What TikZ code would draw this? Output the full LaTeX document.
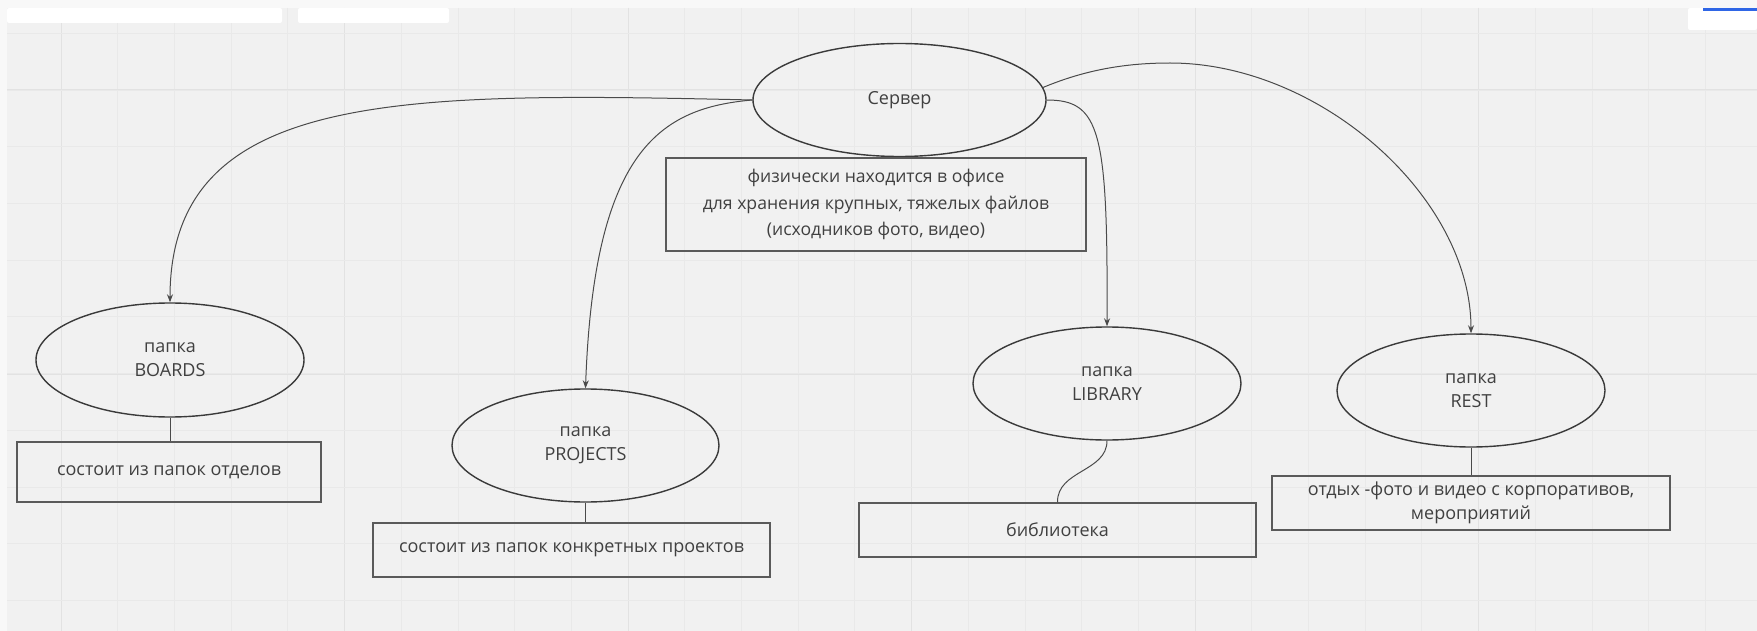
\documentclass[tikz,border=0pt]{standalone}
\usepackage{fontspec}
\setmainfont{Open Sans}
\usetikzlibrary{shapes.geometric,arrows.meta}
\definecolor{bgc}{HTML}{F1F1F1}
\definecolor{stripc}{HTML}{F8F8F8}
\definecolor{gmin}{HTML}{E9E9E9}
\definecolor{gmaj}{HTML}{E2E2E2}
\definecolor{lnc}{HTML}{3A3A3A}
\definecolor{cnc}{HTML}{4A4A4A}
\definecolor{bxc}{HTML}{5A5A5A}
\definecolor{txc}{HTML}{404040}
\definecolor{bluec}{HTML}{2F66E6}
\begin{document}
\begin{tikzpicture}[x=1pt,y=-1pt,
  lbl/.style={font=\fontsize{18}{24}\selectfont, text=txc, align=center},
  ell/.style={lbl, ellipse, draw=lnc, line width=1.4pt, inner sep=0pt},
  bx/.style={lbl, rectangle, draw=bxc, line width=1.3pt, inner sep=0pt},
  conn/.style={draw=cnc, line width=1pt},
  arr/.style={conn, -{Stealth[length=8pt,width=6pt]}},
  gridminor/.style={draw=gmin, line width=0.8pt},
  gridmajor/.style={draw=gmaj, line width=1pt}]
\useasboundingbox (0,0) rectangle (1757,631);
% background and grid
\fill[bgc] (0,0) rectangle (1757,631);
\fill[stripc] (0,0) rectangle (1757,8);
\fill[stripc] (0,0) rectangle (7,631);
\foreach \k in {0,...,29} \draw[gridminor] ({61+\k*56.7},8) -- ({61+\k*56.7},631);
\foreach \k in {0,...,5} \draw[gridmajor] ({61+\k*283.5},8) -- ({61+\k*283.5},631);
\foreach \k in {0,...,10} \draw[gridminor] (7,{33.3+\k*56.7}) -- (1757,{33.3+\k*56.7});
\foreach \k in {0,1} \draw[gridmajor] (7,{90+\k*284}) -- (1757,{90+\k*284});
% UI artefacts at the top
\fill[white, rounded corners=2pt] (7,8) rectangle (282,23);
\fill[white, rounded corners=2pt] (298,8) rectangle (449,23);
\fill[white, rounded corners=2pt] (1688,8) rectangle (1757,30);
\fill[bluec] (1703,8) rectangle (1757,11);
% nodes
\node[ell, minimum width=293pt, minimum height=113pt] (srv) at (899.5,100) {Сервер};
\node[bx, minimum width=420pt, minimum height=93pt, font=\fontsize{17.6}{26.5}\selectfont] (bsrv) at (876,204.5)
  {физически находится в офисе\\для хранения крупных, тяжелых файлов\\(исходников фото, видео)};
\node[ell, minimum width=268pt, minimum height=114pt] (boards) at (170,360) {папка\\BOARDS};
\node[bx, minimum width=304pt, minimum height=60pt] (bboards) at (169,472) {состоит из папок отделов};
\node[ell, minimum width=267pt, minimum height=113pt] (proj) at (585.5,445.5) {папка\\PROJECTS};
\node[bx, minimum width=397pt, minimum height=54pt] (bproj) at (571.5,550) {состоит из папок конкретных проектов};
\node[ell, minimum width=268pt, minimum height=113pt] (lib) at (1107,383.5) {папка\\LIBRARY};
\node[bx, minimum width=397pt, minimum height=54pt] (blib) at (1057.5,530) {библиотека};
\node[ell, minimum width=268pt, minimum height=113pt] (rest) at (1471,390.5) {папка\\REST};
\node[bx, minimum width=398pt, minimum height=54pt] (brest) at (1471,503) {отдых -фото и видео с корпоративов,\\мероприятий};
% connectors
\draw[arr] (srv.west) .. controls (400,92) and (170,90) .. (boards.north);
\draw[arr] (srv.west) .. controls (660,108) and (594,150) .. (proj.north);
\draw[arr] (srv.east) .. controls (1100,100) and (1108,130) .. (lib.north);
\draw[arr] (srv.5) .. controls (1085,70) and (1125,63) .. (1170,63)
  .. controls (1320,63) and (1471,197) .. (rest.north);
\draw[conn] (boards.south) -- (boards.south |- bboards.north);
\draw[conn] (proj.south) -- (proj.south |- bproj.north);
\draw[conn] (lib.south) .. controls (1107,472) and (1057,470) .. (blib.north);
\draw[conn] (rest.south) -- (brest.north);
\end{tikzpicture}
\end{document}
